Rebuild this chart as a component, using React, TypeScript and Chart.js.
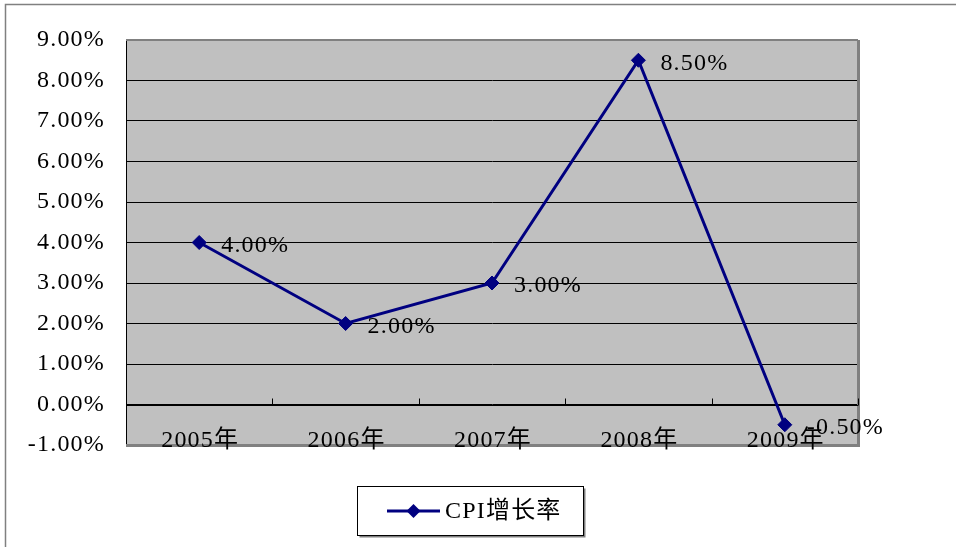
import React, { useEffect, useRef } from "react";
import { Chart, registerables } from "chart.js";

Chart.register(...registerables);

const categories: string[] = ["2005年", "2006年", "2007年", "2008年", "2009年"];
const cpiGrowth: number[] = [4.0, 2.0, 3.0, 8.5, -0.5];
const seriesName = "CPI增长率";
const yMin = -1;
const yMax = 9;
const yStep = 1;

const FAMILY = '"Liberation Serif", "Noto Sans CJK SC", serif';
const NAVY = "#000080";
const SPACING = "1.2px";
const FS = 24;

const decorPlugin = {
  id: "decor",
  beforeDraw(chart: any) {
    const { ctx, chartArea } = chart;
    (ctx as any).letterSpacing = SPACING;
    ctx.save();
    // outer chart border
    ctx.strokeStyle = "#808080";
    ctx.lineWidth = 1.5;
    ctx.strokeRect(5.5, 4.5, 2000, 2000);
    // plot background
    ctx.fillStyle = "#C0C0C0";
    ctx.fillRect(chartArea.left, chartArea.top, chartArea.right - chartArea.left, chartArea.bottom - chartArea.top);
    ctx.restore();
  },
  beforeDatasetsDraw(chart: any) {
    const { ctx, chartArea } = chart;
    const x = chart.scales.x;
    const y = chart.scales.y;
    ctx.save();
    // plot border (gray) top/right/bottom
    ctx.strokeStyle = "#808080";
    ctx.lineWidth = 2;
    ctx.beginPath();
    ctx.moveTo(chartArea.left, chartArea.top);
    ctx.lineTo(chartArea.right, chartArea.top);
    ctx.stroke();
    ctx.lineWidth = 3;
    ctx.beginPath();
    ctx.moveTo(chartArea.right + 0.5, chartArea.top);
    ctx.lineTo(chartArea.right + 0.5, chartArea.bottom + 0.5);
    ctx.lineTo(chartArea.left, chartArea.bottom + 0.5);
    ctx.stroke();
    // category axis at zero
    const y0 = Math.round(y.getPixelForValue(0)) + 0.5;
    ctx.strokeStyle = "#000";
    ctx.lineWidth = 1;
    ctx.beginPath();
    ctx.moveTo(chartArea.left, y0);
    ctx.lineTo(chartArea.right, y0);
    const n = categories.length;
    const step = n > 1 ? x.getPixelForValue(1) - x.getPixelForValue(0) : 0;
    for (let i = 0; i < n; i++) {
      const bx = Math.round(x.getPixelForValue(i) + step / 2) + 0.5;
      ctx.moveTo(bx, y0);
      ctx.lineTo(bx, y0 - 7);
    }
    ctx.stroke();
    // category labels
    ctx.fillStyle = "#000";
    ctx.font = `${FS}px ${FAMILY}`;
    ctx.textAlign = "center";
    ctx.textBaseline = "middle";
    for (let i = 0; i < n; i++) {
      ctx.fillText(categories[i], x.getPixelForValue(i) + 1, y0 + 35);
    }
    ctx.restore();
  },
  afterDatasetsDraw(chart: any) {
    const { ctx } = chart;
    const meta = chart.getDatasetMeta(0);
    ctx.save();
    ctx.fillStyle = "#000";
    ctx.font = `${FS}px ${FAMILY}`;
    ctx.textAlign = "left";
    ctx.textBaseline = "middle";
    meta.data.forEach((pt: any, i: number) => {
      const v = cpiGrowth[i];
      ctx.fillText(v.toFixed(2) + "%", pt.x + 22, pt.y + 3);
    });
    ctx.restore();

    // legend
    ctx.save();
    const lx = 357.5, ly = 486.5, lw = 226, lh = 49;
    ctx.fillStyle = "#808080";
    ctx.fillRect(lx + 2, ly + 2, lw, lh);
    ctx.fillStyle = "#fff";
    ctx.fillRect(lx, ly, lw, lh);
    ctx.strokeStyle = "#000";
    ctx.lineWidth = 1;
    ctx.strokeRect(lx, ly, lw, lh);
    const cy = 511;
    ctx.strokeStyle = NAVY;
    ctx.lineWidth = 3;
    ctx.beginPath();
    ctx.moveTo(387, cy);
    ctx.lineTo(440, cy);
    ctx.stroke();
    ctx.fillStyle = NAVY;
    ctx.beginPath();
    ctx.moveTo(413.5, cy - 7);
    ctx.lineTo(420.5, cy);
    ctx.lineTo(413.5, cy + 7);
    ctx.lineTo(406.5, cy);
    ctx.closePath();
    ctx.fill();
    ctx.fillStyle = "#000";
    ctx.font = `${FS}px ${FAMILY}`;
    ctx.textAlign = "left";
    ctx.textBaseline = "middle";
    ctx.fillText(seriesName, 445, cy + 1);
    ctx.restore();
  },
};

export default function App() {
  const ref = useRef<HTMLCanvasElement | null>(null);
  useEffect(() => {
    if (!ref.current) return;
    const chart = new Chart(ref.current, {
      type: "line",
      data: {
        labels: categories,
        datasets: [
          {
            label: seriesName,
            data: cpiGrowth,
            borderColor: NAVY,
            backgroundColor: NAVY,
            borderWidth: 3,
            pointStyle: "rectRot",
            pointRadius: 7,
            pointHoverRadius: 7,
            pointBackgroundColor: NAVY,
            pointBorderColor: NAVY,
            pointBorderWidth: 1,
            tension: 0,
            clip: false as any,
          },
        ],
      },
      options: {
        responsive: false,
        animation: false,
        events: [],
        layout: { padding: { top: 40, right: 98, bottom: 102, left: 0 } },
        plugins: {
          legend: { display: false },
          tooltip: { enabled: false },
        },
        scales: {
          x: {
            type: "category",
            display: false,
            offset: true,
          },
          y: {
            min: yMin,
            max: yMax,
            afterFit(scale: any) {
              scale.width = 126;
            },
            ticks: {
              stepSize: yStep,
              color: "#000",
              padding: 21,
              font: { family: FAMILY, size: FS },
              callback: (v: any) => Number(v).toFixed(2) + "%",
            },
            grid: {
              color: "#000",
              lineWidth: 1,
              drawTicks: false,
            },
            border: { display: true, color: "#000", width: 1 },
          },
        },
      },
      plugins: [decorPlugin],
    });
    return () => chart.destroy();
  }, []);
  return (
    <div style={{ position: "fixed", left: 0, top: 0, width: 956, height: 547, background: "#fff" }}>
      <canvas ref={ref} width={956} height={547} />
    </div>
  );
}
